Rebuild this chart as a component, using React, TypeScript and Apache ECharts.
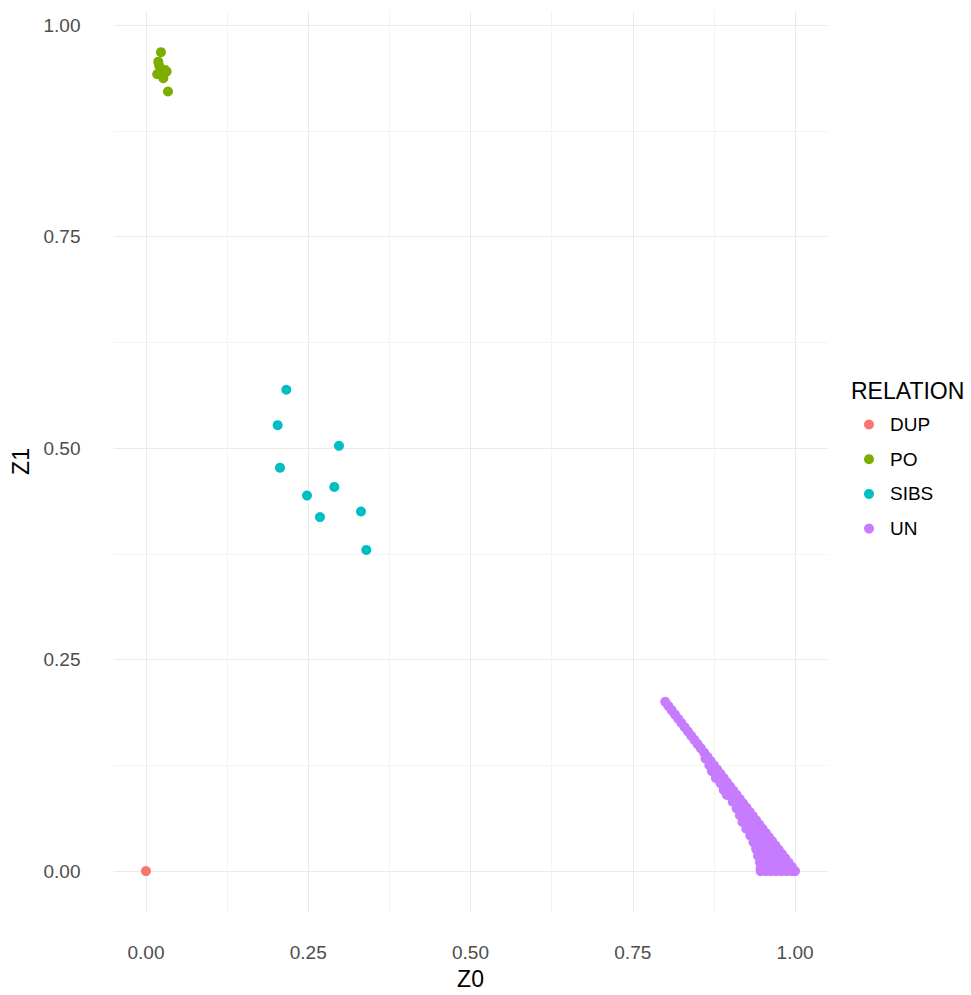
import React, { useEffect, useRef } from "react";
import * as echarts from "echarts";

const relations = ["DUP", "PO", "SIBS", "UN"];
const colors = ["#F8766D", "#7CAE00", "#00BFC4", "#C77CFF"];

const xTicks = [0, 0.25, 0.5, 0.75, 1.0];
const yTicks = [0, 0.25, 0.5, 0.75, 1.0];
const minorTicks = [0.125, 0.375, 0.625, 0.875];

const dupZ0 = [0.0];
const dupZ1 = [0.0];

const poZ0 = [0.0231, 0.019, 0.0205, 0.0174, 0.0293, 0.0319, 0.0267, 0.0339];
const poZ1 = [0.968, 0.9568, 0.9518, 0.942, 0.9471, 0.9451, 0.9373, 0.9215];

const sibsZ0 = [0.2162, 0.2029, 0.2974, 0.2065, 0.2902, 0.2481, 0.3313, 0.2681, 0.3395];
const sibsZ1 = [0.569, 0.5271, 0.5027, 0.4769, 0.4541, 0.4439, 0.425, 0.4184, 0.3796];

// UN cloud: the z0 + z1 = 1 edge, then rows of the filled band below it
const unEdge: [number, number][] = [
  [0.8, 0.2], [0.805, 0.195], [0.81, 0.19], [0.815, 0.185], [0.82, 0.18], [0.825, 0.175],
  [0.83, 0.17], [0.835, 0.165], [0.84, 0.16], [0.845, 0.155], [0.85, 0.15], [0.855, 0.145],
  [0.86, 0.14], [0.865, 0.135], [0.87, 0.13], [0.875, 0.125], [0.88, 0.12], [0.885, 0.115],
  [0.89, 0.11], [0.895, 0.105], [0.9, 0.1], [0.905, 0.095], [0.91, 0.09], [0.915, 0.085],
  [0.92, 0.08], [0.925, 0.075], [0.93, 0.07], [0.935, 0.065], [0.94, 0.06], [0.945, 0.055],
  [0.95, 0.05], [0.955, 0.045], [0.96, 0.04], [0.965, 0.035], [0.97, 0.03], [0.975, 0.025],
  [0.98, 0.02], [0.985, 0.015], [0.99, 0.01], [0.995, 0.005], [1.0, 0.0],
];
const unBand: [number, number][] = [
  [0.862, 0.133],
  [0.868, 0.125], [0.872, 0.125],
  [0.872, 0.118], [0.878, 0.118],
  [0.878, 0.11], [0.885, 0.11],
  [0.885, 0.104], [0.891, 0.104],
  [0.89, 0.096], [0.897, 0.096],
  [0.895, 0.09], [0.902, 0.09], [0.907, 0.09],
  [0.904, 0.082], [0.911, 0.082],
  [0.91, 0.074], [0.917, 0.074],
  [0.915, 0.066], [0.922, 0.066], [0.929, 0.066],
  [0.919, 0.058], [0.926, 0.058], [0.933, 0.058], [0.939, 0.058],
  [0.925, 0.05], [0.932, 0.05], [0.939, 0.05], [0.946, 0.05],
  [0.931, 0.042], [0.938, 0.042], [0.945, 0.042], [0.952, 0.042],
  [0.936, 0.034], [0.943, 0.034], [0.95, 0.034], [0.957, 0.034], [0.962, 0.034],
  [0.94, 0.026], [0.947, 0.026], [0.954, 0.026], [0.961, 0.026], [0.968, 0.026],
  [0.943, 0.018], [0.95, 0.018], [0.957, 0.018], [0.964, 0.018], [0.971, 0.018], [0.978, 0.018],
  [0.946, 0.01], [0.953, 0.01], [0.96, 0.01], [0.967, 0.01], [0.974, 0.01], [0.981, 0.01], [0.988, 0.01],
  [0.947, 0.003], [0.954, 0.003], [0.961, 0.003], [0.968, 0.003], [0.975, 0.003], [0.982, 0.003], [0.989, 0.003], [0.996, 0.003],
  [0.947, 0.0], [0.955, 0.0], [0.963, 0.0], [0.971, 0.0], [0.979, 0.0], [0.987, 0.0], [0.995, 0.0],
];

const FONT = "'Liberation Sans', Arial, Helvetica, sans-serif";

function zip(a: number[], b: number[]) {
  return a.map((v, i) => [v, b[i]]);
}

export default function App() {
  const ref = useRef<HTMLDivElement>(null);
  useEffect(() => {
    if (!ref.current) return;
    const chart = echarts.init(ref.current, undefined, { renderer: "svg" });
    const seriesData = [
      zip(dupZ0, dupZ1),
      zip(poZ0, poZ1),
      zip(sibsZ0, sibsZ1),
      [...unEdge, ...unBand],
    ];
    const xMin = -0.05, xMax = 1.05;
    const yMin = -0.0484, yMax = 1.0167;
    chart.setOption({
      animation: false,
      backgroundColor: "#ffffff",
      title: {
        text: "RELATION",
        left: 851,
        top: 379,
        padding: 0,
        textStyle: { fontFamily: FONT, fontSize: 23, fontWeight: "normal", color: "#000000" },
      },
      legend: {
        orient: "vertical",
        left: 864,
        top: 415,
        padding: 0,
        itemWidth: 10,
        itemHeight: 10,
        itemGap: 15.7,
        icon: "circle",
        data: relations,
        textStyle: {
          fontFamily: FONT,
          fontSize: 19,
          lineHeight: 19,
          color: "#000000",
          padding: [0, 0, 0, 11],
        },
      },
      grid: { left: 113.5, right: 143.5, top: 11, bottom: 79, containLabel: false },
      xAxis: [
        {
          type: "value",
          min: xMin,
          max: xMax,
          position: "bottom",
          name: "Z0",
          nameLocation: "middle",
          nameGap: 55,
          nameTextStyle: { fontFamily: FONT, fontSize: 23, color: "#000000" },
          axisLine: { show: false },
          axisTick: { show: false, customValues: xTicks },
          axisLabel: {
            customValues: xTicks,
            formatter: (v: number) => v.toFixed(2),
            margin: 31,
            fontFamily: FONT,
            fontSize: 19,
            color: "#4d4d4d",
          },
          splitLine: { show: true, lineStyle: { color: "#ebebeb", width: 1 } },
          z: 2,
        },
        {
          type: "value",
          min: xMin,
          max: xMax,
          position: "top",
          axisLine: { show: false },
          axisTick: { show: false, customValues: minorTicks },
          axisLabel: { show: false, customValues: minorTicks },
          splitLine: { show: true, lineStyle: { color: "#f4f4f4", width: 1 } },
          z: 1,
        },
      ],
      yAxis: [
        {
          type: "value",
          min: yMin,
          max: yMax,
          position: "left",
          name: "Z1",
          nameLocation: "middle",
          nameGap: 75,
          nameRotate: 90,
          nameTextStyle: { fontFamily: FONT, fontSize: 23, color: "#000000" },
          axisLine: { show: false },
          axisTick: { show: false, customValues: yTicks },
          axisLabel: {
            customValues: yTicks,
            formatter: (v: number) => v.toFixed(2),
            margin: 33,
            fontFamily: FONT,
            fontSize: 19,
            color: "#4d4d4d",
          },
          splitLine: { show: true, lineStyle: { color: "#ebebeb", width: 1 } },
          z: 2,
        },
        {
          type: "value",
          min: yMin,
          max: yMax,
          position: "right",
          axisLine: { show: false },
          axisTick: { show: false, customValues: minorTicks },
          axisLabel: { show: false, customValues: minorTicks },
          splitLine: { show: true, lineStyle: { color: "#f4f4f4", width: 1 } },
          z: 1,
        },
      ],
      series: relations.map((name, i) => ({
        name,
        type: "scatter",
        xAxisIndex: 0,
        yAxisIndex: 0,
        data: seriesData[i],
        symbol: "circle",
        symbolSize: 10,
        itemStyle: { color: colors[i], opacity: 1 },
        emphasis: { disabled: true },
        z: 5,
      })),
    });
    return () => chart.dispose();
  }, []);
  return (
    <div
      ref={ref}
      style={{ position: "fixed", left: 0, top: 0, width: 971, height: 995, background: "#fff" }}
    />
  );
}
